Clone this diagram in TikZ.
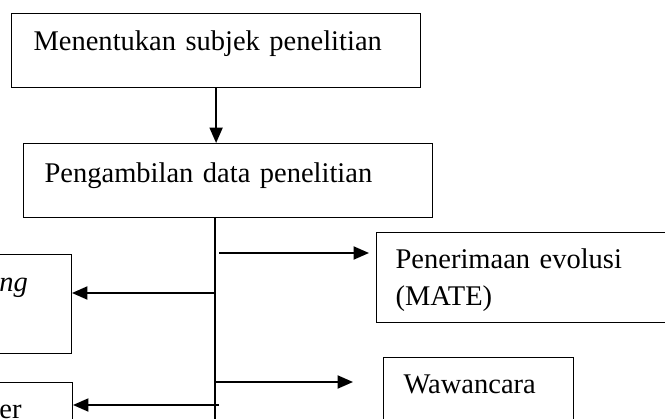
\documentclass[tikz,border=0pt]{standalone}
\usepackage{fontspec}
\setmainfont{Liberation Serif}
\usepackage{tikz}
\usetikzlibrary{positioning,arrows.meta,calc}
\newdimen\px
\px=0.421pt

\begin{document}
\begin{tikzpicture}[
  x=0.421pt, y=-0.421pt,
  kotak/.style={draw,line width=0.5pt,rectangle,align=left,inner ysep=0pt,font=\fontsize{12}{15.6}\selectfont},
  panah/.style={line width=0.75pt,-{Triangle[length=6.5pt,width=5.5pt]}}
]
\useasboundingbox (0,0) rectangle (665,419);
\clip (0,0) rectangle (665,419);
% boxes
\node[kotak,anchor=north west,inner xsep=22\px,text width=365\px,text height=37\px,text depth=37\px] (subjek) at (11,13) {Menentukan subjek penelitian};
\node[kotak,anchor=north west,inner xsep=21\px,text width=367\px,text height=39\px,text depth=35\px] (data) at (23,143) {Pengambilan data penelitian};
\node[kotak,anchor=north west,inner xsep=19\px,text width=282\px,text height=36\px,text depth=54\px] (mate) at (376,232) {Penerimaan evolusi\\(MATE)};
\node[kotak,anchor=north west,inner xsep=20\px,text width=150\px,text height=36\px,text depth=60\px] (wawancara) at (383,357) {Wawancara};
\node[kotak,anchor=north east,inner xsep=20\px,text width=52\px,text height=37\px,text depth=62\px] (kiri1) at (72,254) {\textit{ng}};
\node[kotak,anchor=north east,inner xsep=20\px,text width=53\px,text height=36\px,text depth=40\px] (kiri2) at (73,382) {er};
% branch points
\coordinate (batang) at (215,425);
\coordinate (c1) at (215,253);
\coordinate (c2) at (215,293);
\coordinate (c3) at (215,382);
\coordinate (c4) at (215,405);
% connectors
\draw[panah] (subjek.south) -- (subjek.south |- data.north);
\draw[line width=0.75pt] (data.south -| batang) -- (batang);
\draw[panah,shorten >=7\px] ($(c1)+(4,0)$) -- (mate.west |- c1);
\draw[panah] (c2) -- (kiri1.east |- c2);
\draw[panah,shorten >=30\px] (c3) -- (wawancara.west |- c3);
\draw[panah] ($(c4)+(4,0)$) -- (kiri2.east |- c4);
\end{tikzpicture}
\end{document}
